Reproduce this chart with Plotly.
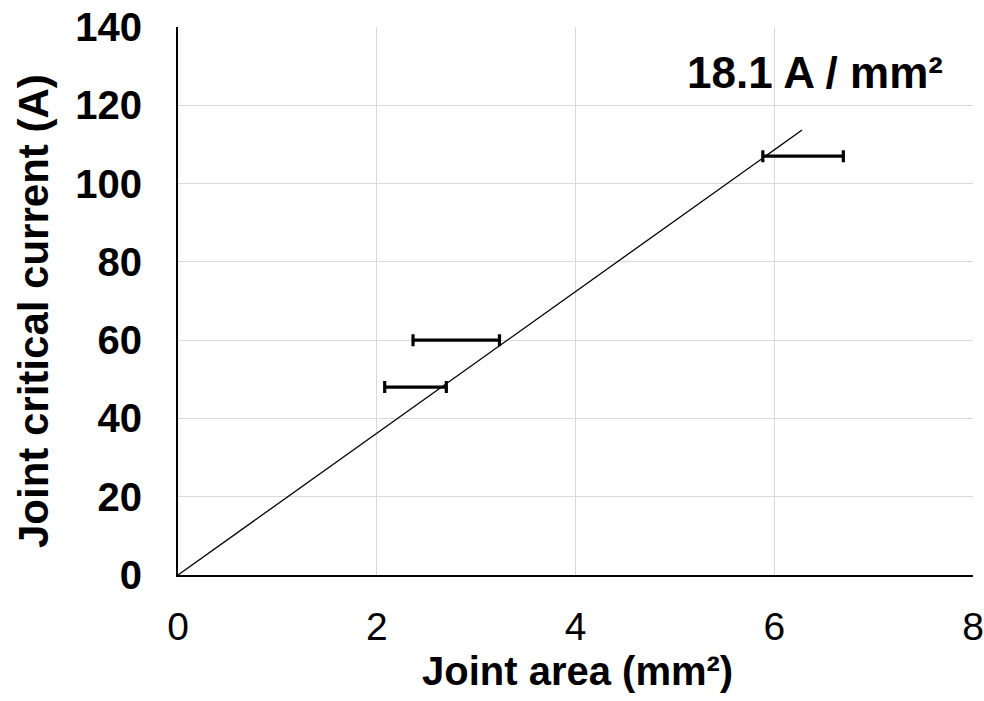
import plotly.graph_objects as go

# Measured joints: mean area, spread in area, critical current
area_mm2 = [2.39, 2.80, 6.29]
area_err = [0.31, 0.435, 0.405]
current_a = [48, 60, 107]

# Linear fit through the origin
slope = 18.1
fit_x = [0, 6.28]
fit_y = [slope * x for x in fit_x]

font = "Liberation Sans, Arial, sans-serif"

# plot area in pixels
L, R, T, B = 178, 11, 27, 126
W, H = 984, 701
pw, ph = W - L - R, H - T - B


def px_to_domain(px, py):
    return (px - L) / pw, (H - B - py) / ph


fig = go.Figure()

fig.add_trace(go.Scatter(
    x=fit_x, y=fit_y, mode="lines",
    line=dict(color="black", width=1.3),
    showlegend=False, hoverinfo="skip",
))

fig.add_trace(go.Scatter(
    x=area_mm2, y=current_a, mode="markers",
    marker=dict(size=1, color="rgba(0,0,0,0)"),
    error_x=dict(type="data", array=area_err, visible=True,
                 color="black", thickness=3.2, width=6),
    showlegend=False,
))

# slope label
ax, ay = px_to_domain(945, 73)
fig.add_annotation(
    x=ax, y=ay, xref="x domain", yref="y domain",
    xanchor="right", yanchor="middle",
    text=f"<b>{slope} A / mm²</b>", showarrow=False,
    font=dict(family=font, size=44, color="black"),
)

# axis titles
tx, ty = px_to_domain(577, 671)
fig.add_annotation(
    x=tx, y=ty, xref="x domain", yref="y domain",
    xanchor="center", yanchor="middle",
    text="<b>Joint area (mm²)</b>", showarrow=False,
    font=dict(family=font, size=40, color="black"),
)
tx, ty = px_to_domain(34, 311)
fig.add_annotation(
    x=tx, y=ty, xref="x domain", yref="y domain",
    xanchor="center", yanchor="middle", textangle=-90,
    text="<b>Joint critical current (A)</b>", showarrow=False,
    font=dict(family=font, size=42, color="black"),
)

fig.update_layout(
    width=W, height=H,
    margin=dict(l=L, r=R, t=T, b=B),
    paper_bgcolor="white", plot_bgcolor="white",
    font=dict(family=font, color="black"),
    xaxis=dict(
        range=[0, 8], dtick=2, tick0=0, automargin=False,
        showgrid=True, gridcolor="#d9d9d9", gridwidth=1.3,
        showline=True, linecolor="black", linewidth=2,
        zeroline=False, ticks="", ticklabelstandoff=16,
        tickfont=dict(family=font, size=39, color="black"),
    ),
    yaxis=dict(
        range=[0, 140], dtick=20, tick0=0, automargin=False,
        showgrid=True, gridcolor="#d9d9d9", gridwidth=1.3,
        showline=True, linecolor="black", linewidth=2,
        zeroline=False, ticks="", ticklabelstandoff=26,
        tickfont=dict(family=font, size=40, color="black"),
        tickprefix="<b>", ticksuffix="</b>",
    ),
)

fig.write_html("out.html")
